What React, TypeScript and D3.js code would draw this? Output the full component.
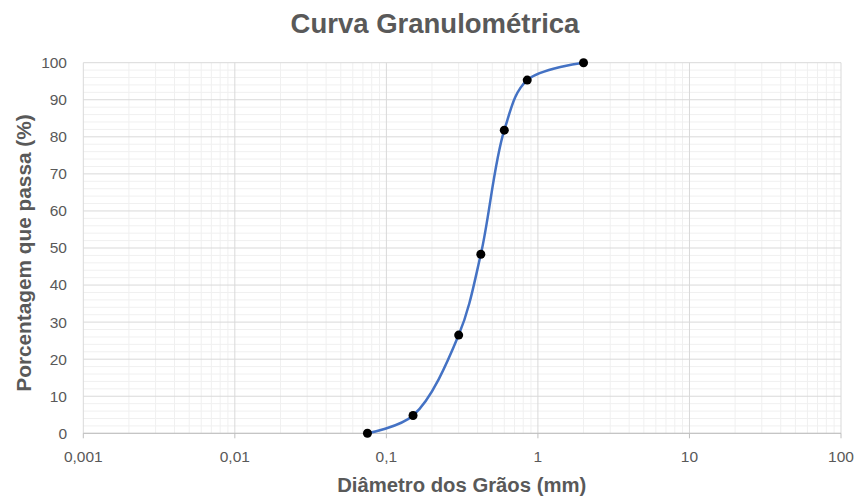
import React from "react";
import * as d3 from "d3";

const diameters = [0.075, 0.15, 0.3, 0.42, 0.6, 0.85, 2.0];
const passing = [0, 4.8, 26.5, 48.3, 81.8, 95.3, 100];
const xTickValues = [0.001, 0.01, 0.1, 1, 10, 100];
const xTickLabels = ["0,001", "0,01", "0,1", "1", "10", "100"];
const yTickValues = [0, 10, 20, 30, 40, 50, 60, 70, 80, 90, 100];

const W = 856;
const H = 498;
const left = 83.3;
const right = 841;
const top = 62.7;
const bottom = 433.3;
const FONT = "'Liberation Sans', Arial, sans-serif";

export default function App() {
  const x = d3.scaleLog().domain([0.001, 100]).range([left, right]);
  const y = d3.scaleLinear().domain([0, 100]).range([bottom, top]);

  const minorX: number[] = [];
  for (let e = -3; e < 2; e++) {
    for (let m = 2; m <= 9; m++) minorX.push(m * Math.pow(10, e));
  }
  const minorY: number[] = [];
  for (let v = 2; v < 100; v += 2) if (v % 10 !== 0) minorY.push(v);

  const pts = diameters.map((d, i) => [d, passing[i]] as [number, number]);
  const line = d3
    .line<[number, number]>()
    .x((d) => x(d[0]))
    .y((d) => y(d[1]))
    .curve(d3.curveCatmullRom.alpha(0.5));

  return (
    <svg
      width={W}
      height={H}
      style={{ position: "absolute", left: 0, top: 0, background: "#fff" }}
    >
      <rect x={0} y={0} width={W} height={H} fill="#fff" />
      <text
        x={435}
        y={33}
        textAnchor="middle"
        fontFamily={FONT}
        fontWeight="bold"
        fontSize={27.5}
        fill="#595959"
      >
        Curva Granulométrica
      </text>
      {minorY.map((v) => (
        <line key={"my" + v} x1={left} x2={right} y1={y(v)} y2={y(v)} stroke="#f0f0f0" strokeWidth={1} />
      ))}
      {minorX.map((v, i) => (
        <line key={"mx" + i} x1={x(v)} x2={x(v)} y1={top} y2={bottom} stroke="#f0f0f0" strokeWidth={1} />
      ))}
      {yTickValues.map((v) => (
        <line key={"gy" + v} x1={left} x2={right} y1={y(v)} y2={y(v)} stroke="#d9d9d9" strokeWidth={1} />
      ))}
      {xTickValues.map((v) => (
        <line key={"gx" + v} x1={x(v)} x2={x(v)} y1={top} y2={bottom} stroke="#d9d9d9" strokeWidth={1} />
      ))}
      <line x1={left} x2={right} y1={bottom} y2={bottom} stroke="#bfbfbf" strokeWidth={1} />
      {xTickValues.map((v) => (
        <line key={"tx" + v} x1={x(v)} x2={x(v)} y1={bottom} y2={bottom + 5} stroke="#bfbfbf" strokeWidth={1} />
      ))}
      {yTickValues.map((v) => (
        <text
          key={"ly" + v}
          x={67}
          y={y(v)}
          dy="0.35em"
          textAnchor="end"
          fontFamily={FONT}
          fontSize={15.5}
          fill="#595959"
        >
          {v}
        </text>
      ))}
      {xTickValues.map((v, i) => (
        <text
          key={"lx" + v}
          x={x(v)}
          y={461.5}
          textAnchor="middle"
          fontFamily={FONT}
          fontSize={15.5}
          fill="#595959"
        >
          {xTickLabels[i]}
        </text>
      ))}
      <text
        x={461.7}
        y={492}
        textAnchor="middle"
        fontFamily={FONT}
        fontWeight="bold"
        fontSize={20.3}
        fill="#595959"
      >
        Diâmetro dos Grãos (mm)
      </text>
      <text
        transform={`translate(31, 253) rotate(-90)`}
        textAnchor="middle"
        fontFamily={FONT}
        fontWeight="bold"
        fontSize={20.8}
        fill="#595959"
      >
        Porcentagem que passa (%)
      </text>
      <path d={line(pts) || ""} fill="none" stroke="#4472C4" strokeWidth={2.5} />
      {pts.map((p, i) => (
        <circle key={"pt" + i} cx={x(p[0])} cy={y(p[1])} r={4.5} fill="#000" />
      ))}
    </svg>
  );
}
